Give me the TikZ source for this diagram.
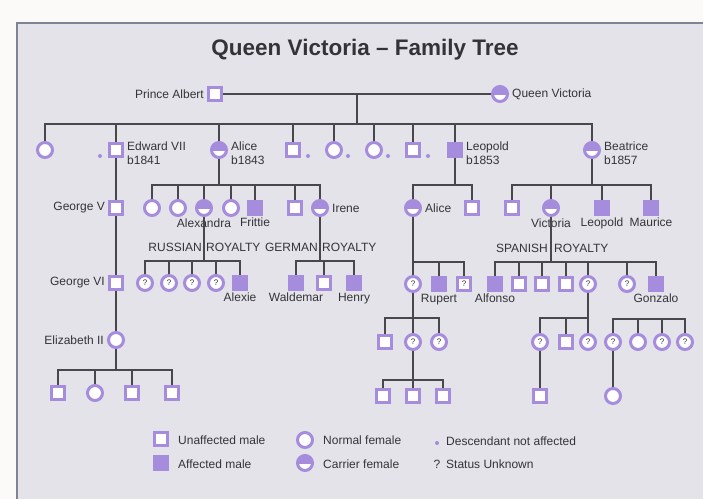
\documentclass[tikz,border=0pt]{standalone}
\usepackage{fontspec}
\setmainfont{Liberation Sans}
\usepackage{tikz}
\definecolor{lilac}{RGB}{165,140,220}
\definecolor{panel}{RGB}{228,227,233}
\definecolor{paper}{RGB}{252,250,248}
\definecolor{rim}{RGB}{125,132,148}
\definecolor{ink}{RGB}{52,52,56}
\definecolor{wirecol}{RGB}{72,72,76}
\tikzstyle{male} = [draw=lilac,line width=3pt,fill=white,minimum size=13pt,inner sep=0pt]
\tikzstyle{amale} = [male,fill=lilac]
\tikzstyle{female} = [male,circle,minimum size=15pt]
\tikzstyle{carrier} = [female,fill=lilac,path picture={\fill[white] ([yshift=-1pt]path picture bounding box.west) rectangle (path picture bounding box.south east);}]
\tikzstyle{unknown} = [female,font=\fontsize{8}{8}\selectfont,text=ink]
\tikzstyle{qmale} = [male,font=\fontsize{8}{8}\selectfont,text=ink]
\tikzstyle{spot} = [circle,fill=lilac,inner sep=0pt,minimum size=4pt]
\tikzstyle{lab} = [font=\fontsize{12}{14}\selectfont,text=ink,inner sep=1pt]
\tikzstyle{wire} = [draw=wirecol,line width=1.1pt]

\begin{document}
\begin{tikzpicture}[x=1pt,y=-1pt,label distance=2pt]
    \useasboundingbox (0,0) rectangle (703,499);
    \fill[paper] (0,0) rectangle (703,499);
    \fill[panel] (17,23) rectangle (703,499);
    \draw[rim,line width=1.5pt] (17,499) -- (17,23) -- (703,23);

    \node[font=\fontsize{22.5}{22}\selectfont\bfseries,text=ink] (title) at (365,50) {Queen Victoria – Family Tree};

    % parents
    \node[male,label={[lab]left:Prince Albert}] (albert) at (215,94) {};
    \node[carrier,label={[lab]right:Queen Victoria}] (victoria) at (500,94) {};
    \coordinate (wed) at (357,94);
    \coordinate (kids) at (357,124);
    \draw[wire] (albert) -- (victoria);
    \draw[wire] (wed) -- (kids);

    % their children
    \node[female] (vicky) at (45,150) {};
    \node[male,label={[lab,align=left,yshift=-3pt]right:Edward VII\\b1841}] (edward) at (116,150) {};
    \node[carrier,label={[lab,align=left,yshift=-3pt]right:Alice\\b1843}] (alice) at (219,150) {};
    \node[male] (c4) at (293,150) {};
    \node[female] (c5) at (334,150) {};
    \node[female] (c6) at (374,150) {};
    \node[male] (c7) at (413,150) {};
    \node[amale,label={[lab,align=left,yshift=-3pt]right:Leopold\\b1853}] (leopold) at (455,150) {};
    \node[carrier,label={[lab,align=left,yshift=-3pt]right:Beatrice\\b1857}] (beatrice) at (592,150) {};
    \node[spot] (d1) at (100,156) {};
    \node[spot] (d2) at (308,156) {};
    \node[spot] (d3) at (348,156) {};
    \node[spot] (d4) at (388,156) {};
    \node[spot] (d5) at (428,156) {};
    \draw[wire] (vicky.north) -- (vicky.north |- kids) -- (beatrice.north |- kids) -- (beatrice.north);
    \foreach \c in {edward,alice,c4,c5,c6,c7,leopold}
        \draw[wire] (\c.north) -- (\c.north |- kids);

    % british line
    \node[male,label={[lab]left:George V}] (georgev) at (116,208) {};
    \node[male,label={[lab]left:George VI}] (georgevi) at (116,283) {};
    \node[female,label={[lab]left:Elizabeth II}] (elizabeth) at (116,340) {};
    \draw[wire] (edward) -- (georgev);
    \draw[wire] (georgev) -- (georgevi);
    \draw[wire] (georgevi) -- (elizabeth);
    \node[male] (e1) at (58,393) {};
    \node[female] (e2) at (95,393) {};
    \node[male] (e3) at (132,393) {};
    \node[male] (e4) at (172,393) {};
    \coordinate (ebar) at (116,370);
    \draw[wire] (elizabeth) -- (ebar);
    \draw[wire] (e1.north) -- (e1.north |- ebar) -- (e4.north |- ebar) -- (e4.north);
    \foreach \c in {e2,e3}
        \draw[wire] (\c.north) -- (\c.north |- ebar);

    % Alice's children
    \node[female] (a1) at (152,208) {};
    \node[female] (a2) at (178,208) {};
    \node[carrier,label={[lab,label distance=1pt]below:Alexandra}] (alexandra) at (204,208) {};
    \node[female] (a4) at (231,208) {};
    \node[amale,label={[lab,label distance=1pt]below:Frittie}] (frittie) at (255,208) {};
    \node[male] (a6) at (295,208) {};
    \node[carrier,label={[lab]right:Irene}] (irene) at (320,208) {};
    \coordinate (abar) at (219,185);
    \draw[wire] (alice) -- (abar);
    \draw[wire] (a1.north) -- (a1.north |- abar) -- (irene.north |- abar) -- (irene.north);
    \foreach \c in {a2,alexandra,a4,frittie,a6}
        \draw[wire] (\c.north) -- (\c.north |- abar);

    % russian royalty
    \node[lab,anchor=east] (rus) at (203,247) {RUSSIAN};
    \node[lab,anchor=west] (rusr) at (205,247) {ROYALTY};
    \node[unknown] (r1) at (145,283) {?};
    \node[unknown] (r2) at (169,283) {?};
    \node[unknown] (r3) at (192,283) {?};
    \node[unknown] (r4) at (216,283) {?};
    \node[amale,label={[lab,label distance=1pt]below:Alexie}] (alexie) at (240,283) {};
    \coordinate (rbar) at (204,261);
    \draw[wire] (alexandra) -- (rbar);
    \draw[wire] (r1.north) -- (r1.north |- rbar) -- (alexie.north |- rbar) -- (alexie.north);
    \foreach \c in {r2,r3,r4}
        \draw[wire] (\c.north) -- (\c.north |- rbar);

    % german royalty
    \node[lab,anchor=east] (ger) at (319,247) {GERMAN};
    \node[lab,anchor=west] (gerr) at (321,247) {ROYALTY};
    \node[amale,label={[lab,label distance=1pt]below:Waldemar}] (waldemar) at (296,283) {};
    \node[male] (g2) at (324,283) {};
    \node[amale,label={[lab,label distance=1pt]below:Henry}] (henry) at (354,283) {};
    \coordinate (gbar) at (320,261);
    \draw[wire] (irene) -- (gbar);
    \draw[wire] (waldemar.north) -- (waldemar.north |- gbar) -- (henry.north |- gbar) -- (henry.north);
    \draw[wire] (g2.north) -- (g2.north |- gbar);

    % Leopold's children
    \node[carrier,label={[lab]right:Alice}] (lalice) at (413,208) {};
    \node[male] (l2) at (472,208) {};
    \coordinate (lbar) at (455,185);
    \draw[wire] (leopold) -- (lbar);
    \draw[wire] (lalice.north) -- (lalice.north |- lbar) -- (l2.north |- lbar) -- (l2.north);
    \node[unknown] (q1) at (413,284) {?};
    \node[amale,label={[lab,label distance=1pt]below:Rupert}] (rupert) at (439,284) {};
    \node[qmale] (q2) at (464,284) {?};
    \coordinate (qbar) at (413,262);
    \draw[wire] (lalice) -- (q1);
    \draw[wire] (qbar) -- (q2.north |- qbar) -- (q2.north);
    \draw[wire] (rupert.north) -- (rupert.north |- qbar);
    \node[male] (k1) at (385,342) {};
    \node[unknown] (k2) at (413,342) {?};
    \node[unknown] (k3) at (439,342) {?};
    \coordinate (kbar) at (413,318);
    \draw[wire] (q1) -- (k2);
    \draw[wire] (k1.north) -- (k1.north |- kbar) -- (k3.north |- kbar) -- (k3.north);
    \node[male] (w1) at (383,396) {};
    \node[male] (w2) at (413,396) {};
    \node[male] (w3) at (443,396) {};
    \coordinate (wbar) at (413,380);
    \draw[wire] (k2) -- (w2);
    \draw[wire] (w1.north) -- (w1.north |- wbar) -- (w3.north |- wbar) -- (w3.north);

    % Beatrice's children
    \node[male] (b1) at (512,208) {};
    \node[carrier,label={[lab,label distance=1pt]below:Victoria}] (bvictoria) at (551,208) {};
    \node[amale,label={[lab,label distance=1pt]below:Leopold}] (bleopold) at (602,208) {};
    \node[amale,label={[lab,label distance=1pt]below:Maurice}] (maurice) at (651,208) {};
    \coordinate (bbar) at (592,185);
    \draw[wire] (beatrice) -- (bbar);
    \draw[wire] (b1.north) -- (b1.north |- bbar) -- (maurice.north |- bbar) -- (maurice.north);
    \foreach \c in {bvictoria,bleopold}
        \draw[wire] (\c.north) -- (\c.north |- bbar);

    % spanish royalty
    \node[lab,anchor=east] (spa) at (549,248) {SPANISH};
    \node[lab,anchor=west] (spar) at (553,248) {ROYALTY};
    \node[amale,label={[lab,label distance=1pt]below:Alfonso}] (alfonso) at (495,284) {};
    \node[male] (s2) at (519,284) {};
    \node[male] (s3) at (542,284) {};
    \node[male] (s4) at (566,284) {};
    \node[unknown] (s5) at (588,284) {?};
    \node[unknown] (s6) at (627,284) {?};
    \node[amale,label={[lab,label distance=1pt]below:Gonzalo}] (gonzalo) at (656,284) {};
    \coordinate (sbar) at (551,262);
    \draw[wire] (bvictoria) -- (sbar);
    \draw[wire] (alfonso.north) -- (alfonso.north |- sbar) -- (gonzalo.north |- sbar) -- (gonzalo.north);
    \foreach \c in {s2,s3,s4,s5,s6}
        \draw[wire] (\c.north) -- (\c.north |- sbar);
    \node[unknown] (t1) at (540,342) {?};
    \node[male] (t2) at (566,342) {};
    \node[unknown] (t3) at (588,342) {?};
    \coordinate (tbar) at (588,318);
    \draw[wire] (s5) -- (t3);
    \draw[wire] (tbar) -- (t1.north |- tbar) -- (t1.north);
    \draw[wire] (t2.north) -- (t2.north |- tbar);
    \node[male] (x1) at (540,396) {};
    \draw[wire] (t1) -- (x1);
    \node[unknown] (u1) at (613,342) {?};
    \node[female] (u2) at (638,342) {};
    \node[unknown] (u3) at (662,342) {?};
    \node[unknown] (u4) at (685,342) {?};
    \coordinate (ubar) at (649,319);
    \draw[wire] (u1.north) -- (u1.north |- ubar) -- (u4.north |- ubar) -- (u4.north);
    \foreach \c in {u2,u3}
        \draw[wire] (\c.north) -- (\c.north |- ubar);
    \node[female] (y1) at (613,396) {};
    \draw[wire] (u1) -- (y1);

    % key
    \node[male] (k-male) at (161,439) {};
    \node[amale] (k-amale) at (161,463) {};
    \node[female] (k-female) at (305,440) {};
    \node[carrier] (k-carrier) at (305,463) {};
    \node[spot] (k-spot) at (437,443) {};
    \node[lab] (k-q) at (437,464) {?};
    \node[lab,anchor=west] (t-male) at (177,440) {Unaffected male};
    \node[lab,anchor=west] (t-amale) at (177,464) {Affected male};
    \node[lab,anchor=west] (t-female) at (322,440) {Normal female};
    \node[lab,anchor=west] (t-carrier) at (322,464) {Carrier female};
    \node[lab,anchor=west] (t-spot) at (445,441) {Descendant not affected};
    \node[lab,anchor=west] (t-q) at (445,464) {Status Unknown};
\end{tikzpicture}
\end{document}
